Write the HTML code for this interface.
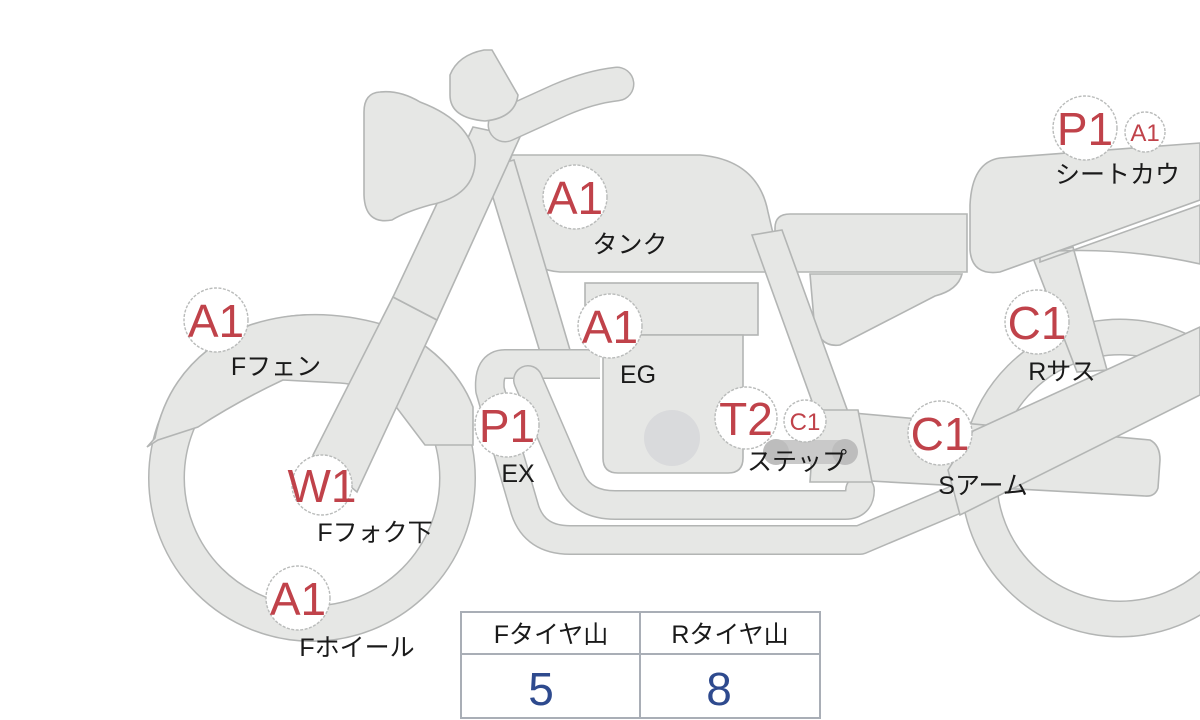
<!DOCTYPE html>
<html><head><meta charset="utf-8">
<style>
html,body{margin:0;padding:0;background:#fff;}
svg{display:block;}
.p{fill:#e6e7e5;stroke:#b3b5b4;stroke-width:1.6;}
.lab{font-family:"Liberation Sans","Noto Sans CJK JP",sans-serif;font-size:25px;fill:#1a1a1a;text-anchor:middle;}
.red{font-family:"Liberation Sans","Noto Sans CJK JP",sans-serif;fill:#c0424a;text-anchor:middle;}
.bc{fill:#fff;stroke:#b9bbba;stroke-width:1.4;stroke-dasharray:3 1.5;}
</style></head>
<body>
<svg width="1200" height="720" viewBox="0 0 1200 720" xmlns="http://www.w3.org/2000/svg">
<circle cx="312" cy="478" r="145.5" fill="none" stroke="#b3b5b4" stroke-width="37"/>
<circle cx="312" cy="478" r="145.5" fill="none" stroke="#e6e7e5" stroke-width="34"/>
<path class="p" d="M147,447 L155,438 Q170,360 250,325 Q320,302 400,330 Q455,360 473,407 L473,445 L425,445 L397,408 Q370,385 340,383 L283,380 Q240,400 198,427 L158,440 Z"/>
<circle cx="1120" cy="478" r="141" fill="none" stroke="#b3b5b4" stroke-width="37"/>
<circle cx="1120" cy="478" r="141" fill="none" stroke="#e6e7e5" stroke-width="34"/>
<path class="p" d="M1033,258 L1073,247 L1107,370 L1077,372 Z"/>
<path class="p" d="M790,214 L967,214 L967,272 L790,272 Q775,272 775,255 L775,228 Q775,214 790,214 Z"/>
<path class="p" d="M810,274 L962,274 Q958,290 935,296 L840,345 Q818,348 814,320 Z"/>
<path class="p" d="M1040,262 L1200,205 L1200,264 Q1120,246 1040,252 Z"/>
<path class="p" d="M1000,158 L1200,143 L1200,200 L1000,272 Q972,276 970,250 L970,205 Q972,162 1000,158 Z"/>
<path class="p" d="M512,155 L700,155 Q758,160 768,212 L782,272 L560,272 Q528,270 520,240 L498,190 Z"/>
<path class="p" d="M484,168 L514,160 L570,350 L540,352 Z"/>
<path class="p" d="M752,235 L782,230 L848,412 L818,418 Z"/>
<rect class="p" x="585" y="283" width="173" height="52"/>
<path class="p" d="M603,335 L743,335 L743,458 Q743,473 728,473 L618,473 Q603,473 603,458 Z"/>
<circle cx="672" cy="438" r="28" fill="#d9dadc"/>
<path d="M600,364 H505 Q488,364 490,390 L525,510 Q535,540 570,540 L860,540 L955,500" fill="none" stroke="#b3b5b4" stroke-width="30" stroke-linejoin="round"/>
<path d="M600,364 H505 Q488,364 490,390 L525,510 Q535,540 570,540 L860,540 L955,500" fill="none" stroke="#e6e7e5" stroke-width="27" stroke-linejoin="round"/>
<path d="M528,380 L572,482 Q584,505 615,505 L845,505 Q860,505 860,490" fill="none" stroke="#b3b5b4" stroke-width="30" stroke-linejoin="round" stroke-linecap="round"/>
<path d="M528,380 L572,482 Q584,505 615,505 L845,505 Q860,505 860,490" fill="none" stroke="#e6e7e5" stroke-width="27" stroke-linejoin="round" stroke-linecap="round"/>
<path class="p" d="M820,410 L1150,440 Q1160,445 1160,460 L1158,488 Q1155,497 1145,496 L870,481 L812,480 Z"/>
<path class="p" d="M815,410 L858,410 L872,482 L810,482 Z"/>
<rect x="778" y="440" width="66" height="24" fill="#c9c9c9"/>
<circle cx="776" cy="452" r="13" fill="#bdbdbd"/>
<circle cx="845" cy="452" r="13" fill="#bdbdbd"/>
<path class="p" d="M973,431 L1200,327 L1200,395 L960,515 L948,470 Z"/>
<path class="p" d="M393,297 L437,320 L357,492 L313,455 Z"/>
<path class="p" d="M473,127 L520,137 L437,320 L393,297 Z"/>
<path d="M505,125 L560,100 Q590,87 617,84" fill="none" stroke="#b3b5b4" stroke-width="35" stroke-linecap="round"/>
<path d="M505,125 L560,100 Q590,87 617,84" fill="none" stroke="#e6e7e5" stroke-width="32" stroke-linecap="round"/>
<path class="p" d="M450,75 Q458,55 484,50 L492,50 L518,95 Q515,118 485,121 Q450,118 450,95 Z"/>
<path class="p" d="M380,92 Q400,90 420,102 Q468,120 475,155 Q478,195 430,205 Q405,212 392,220 Q365,225 364,195 L364,112 Q364,93 380,92 Z"/>

<circle class="bc" cx="575" cy="197" r="32"/><text class="red" x="575" y="214" font-size="46">A1</text>
<text class="lab" x="630" y="253">タンク</text>
<circle class="bc" cx="216" cy="320" r="32"/><text class="red" x="216" y="337" font-size="46">A1</text>
<text class="lab" x="276" y="375">Fフェン</text>
<circle class="bc" cx="610" cy="326" r="32"/><text class="red" x="610" y="343" font-size="46">A1</text>
<text class="lab" x="638" y="383">EG</text>
<circle class="bc" cx="507" cy="425" r="32"/><text class="red" x="507" y="442" font-size="46">P1</text>
<text class="lab" x="518" y="482">EX</text>
<circle class="bc" cx="322" cy="485" r="30"/><text class="red" x="322" y="502" font-size="46">W1</text>
<text class="lab" x="375" y="541">Fフォク下</text>
<circle class="bc" cx="298" cy="598" r="32"/><text class="red" x="298" y="615" font-size="46">A1</text>
<text class="lab" x="357" y="656">Fホイール</text>
<circle class="bc" cx="746" cy="418" r="31"/><text class="red" x="746" y="435" font-size="46">T2</text>
<circle class="bc" cx="805" cy="421" r="21"/><text class="red" x="805" y="430" font-size="24">C1</text>
<text class="lab" x="797" y="470">ステップ</text>
<circle class="bc" cx="940" cy="433" r="32"/><text class="red" x="940" y="450" font-size="46">C1</text>
<text class="lab" x="983" y="494">Sアーム</text>
<circle class="bc" cx="1037" cy="322" r="32"/><text class="red" x="1037" y="339" font-size="46">C1</text>
<text class="lab" x="1062" y="380">Rサス</text>
<circle class="bc" cx="1085" cy="128" r="32"/><text class="red" x="1085" y="145" font-size="46">P1</text>
<circle class="bc" cx="1145" cy="132" r="20"/><text class="red" x="1145" y="141" font-size="24">A1</text>
<text class="lab" x="1055" y="183" style="text-anchor:start">シートカウ</text>

<rect x="461" y="612" width="359" height="106" fill="#fff" stroke="#a9aeb6" stroke-width="2"/>
<line x1="461" y1="654" x2="820" y2="654" stroke="#a9aeb6" stroke-width="2"/>
<line x1="640" y1="612" x2="640" y2="718" stroke="#a9aeb6" stroke-width="2"/>
<text class="lab" x="551" y="643">Fタイヤ山</text>
<text class="lab" x="730" y="643">Rタイヤ山</text>
<text x="541" y="705" font-family="Liberation Sans,sans-serif" font-size="46" fill="#2e4a8e" text-anchor="middle">5</text>
<text x="719" y="705" font-family="Liberation Sans,sans-serif" font-size="46" fill="#2e4a8e" text-anchor="middle">8</text>
</svg>
</body></html>
